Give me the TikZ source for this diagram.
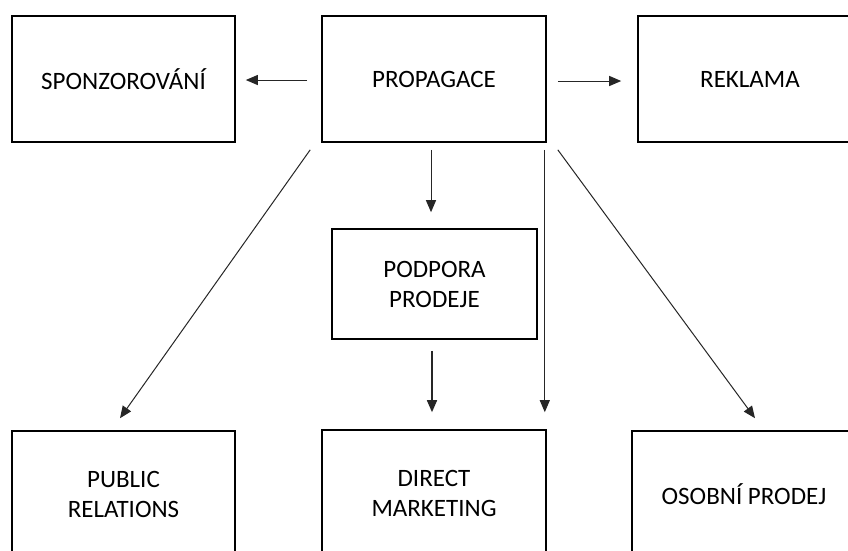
\documentclass[tikz,border=0pt]{standalone}
\usepackage{fontspec}
\setmainfont{Carlito}
\usetikzlibrary{arrows.meta,calc}
\begin{document}
\begin{tikzpicture}[x=1pt,y=-1pt,
  box/.style={draw=black,line width=1.6pt,rectangle,inner sep=0pt,align=center,
    text=black,font=\fontsize{25}{30}\selectfont},
  conn/.style={line width=1pt,draw=black!85,-{Triangle[length=12pt,width=10pt]}},
  thickconn/.style={conn,line width=1.6pt}]
\useasboundingbox (0,0) rectangle (848,550);
\clip (0,0) rectangle (848,550);
\fill[white] (0,0) rectangle (848,550);
% top row
\node[box,minimum width=223pt,minimum height=126pt] (spon) at (123.5,79) {SPONZOROVÁNÍ};
\node[box,minimum width=224pt,minimum height=126pt] (prop) at (434,79) {PROPAGACE};
\node[box,minimum width=224pt,minimum height=126pt] (rek) at (750,79) {REKLAMA};
% middle
\node[box,minimum width=205pt,minimum height=110pt] (podp) at (434.5,284) {PODPORA\\PRODEJE};
% bottom row
\node[box,minimum width=223pt,minimum height=126pt] (pr) at (123.5,494) {PUBLIC\\RELATIONS};
\node[box,minimum width=224pt,minimum height=126pt] (dm) at (434,493) {DIRECT\\MARKETING};
\node[box,minimum width=224pt,minimum height=126pt] (op) at (744,494) {OSOBNÍ PRODEJ};
% connectors
\draw[conn] ($(prop.west)+(-14,1)$) -- ($(spon.east)+(10,1)$);
\draw[conn] ($(prop.east)+(11,2)$) -- ($(rek.west)+(-16,2)$);
\draw[conn] ($(prop.south)+(-3,7)$) -- ($(podp.north)+(-3.5,-16)$);
\draw[thickconn] ($(podp.south)+(-2.5,11)$) -- ($(dm.north)+(-2,-17)$);
\draw[conn] ($(prop.south east)+(-2,7)$) -- ($(dm.north east)+(-2,-17)$);
\draw[conn] ($(prop.south west)+(-11,7)$) -- ($(pr.north)+(-3.5,-12)$);
\draw[conn] ($(prop.south east)+(11,7)$) -- ($(op.north)+(11,-12)$);
\end{tikzpicture}
\end{document}
